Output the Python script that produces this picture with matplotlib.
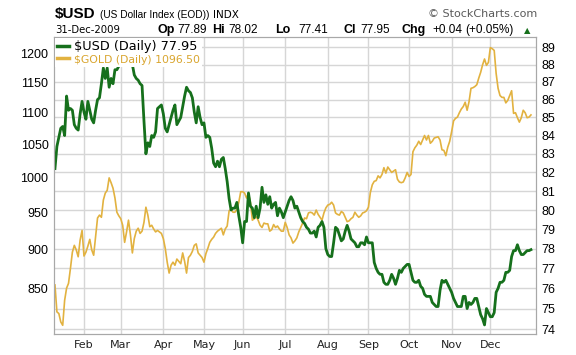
"""$USD vs $GOLD daily closes for 2009, redrawn in the StockCharts style.

Gold sits on the left (log) axis, the dollar index on the right (log) axis.
The x axis counts trading sessions, so weekends and holidays leave no gaps.
"""

import matplotlib

matplotlib.use("Agg")
import matplotlib.pyplot as plt
import matplotlib.transforms as mtransforms
import numpy as np
import pandas as pd
from matplotlib.lines import Line2D

plt.rcParams["text.parse_math"] = False  # labels contain literal "$"

# Session calendar of the window shown (NYSE holidays removed).
FIRST_DAY = "2009-01-09"
LAST_DAY = "2009-12-31"
HOLIDAYS = ["2009-01-19", "2009-02-16", "2009-04-10", "2009-05-25",
            "2009-07-03", "2009-09-07", "2009-11-26", "2009-12-25"]

# Daily closes, one line per month.
usd_close = [
    82.2, 83.4, 83.9, 84.4, 84.5, 84.0, 86.2, 85.4, 85.5, 85.4, 84.6, 84.4, 84.3, 85.2, 85.9,
    85.3, 84.9, 85.9, 85.4, 84.9, 84.7, 85.4, 86.0, 86.1, 86.9, 87.8, 87.2, 87.8, 86.7, 87.2,
    86.9, 87.7, 87.7, 87.9,
    88.1, 88.8, 89.3, 89.2, 89.0, 88.9, 88.0, 87.4, 87.2, 87.1, 86.9, 86.8, 84.8, 83.0, 83.6,
    83.4, 84.0, 83.9, 84.2, 85.5, 85.6, 85.7,
    85.2, 84.4, 84.2, 84.6, 85.0, 85.4, 85.7, 84.6, 84.8, 85.0, 85.6, 86.2, 86.7, 86.5, 86.4,
    86.1, 85.3, 84.7, 85.6, 85.0, 84.6,
    84.7, 83.9, 84.0, 83.9, 83.3, 82.5, 82.3, 82.6, 82.3, 82.7, 82.8, 82.2, 81.5, 80.6, 80.0,
    80.1, 80.1, 80.4, 79.7, 79.1,
    78.3, 79.4, 79.4, 80.9, 80.2, 80.1, 79.6, 80.2, 79.6, 80.1, 81.2, 80.4, 80.8, 80.3, 80.7,
    80.1, 80.3, 80.4, 79.7, 80.1, 79.9, 79.6,
    79.9, 80.2, 80.5, 80.7, 80.5, 80.1, 80.2, 79.9, 79.6, 79.4, 79.3, 79.1, 79.0, 78.8, 78.8,
    78.9, 78.6, 79.1, 79.2, 79.4, 79.1, 78.0,
    77.7, 77.6, 77.6, 78.3, 79.1, 79.0, 78.7, 78.4, 78.5, 78.9, 79.2, 78.9, 78.5, 78.4, 78.3,
    78.1, 78.1, 78.3, 78.3, 78.2, 78.6,
    78.3, 78.3, 78.3, 77.3, 77.0, 76.8, 76.7, 76.7, 76.3, 76.2, 76.2, 76.4, 76.7, 76.5, 76.2,
    76.5, 76.9, 76.8, 77.0, 77.1, 77.2,
    77.2, 76.8, 76.4, 76.3, 76.3, 76.4, 76.1, 76.0, 75.7, 75.6, 75.6, 75.6, 75.3, 75.2, 75.1,
    75.1, 75.9, 76.4, 76.3, 76.4, 76.2, 76.0,
    75.8, 75.5, 75.3, 75.1, 75.1, 75.1, 75.6, 75.6, 75.0, 75.3, 75.2, 75.3, 75.5, 75.5, 75.1,
    74.7, 74.5, 74.2, 75.0, 74.8,
    74.6, 74.6, 74.8, 75.8, 76.0, 76.3, 76.3, 76.4, 76.8, 76.8, 76.9, 77.6, 77.9, 77.9, 78.2,
    77.9, 77.7, 77.7, 77.8, 77.9, 77.9, 77.95,
]
gold_close = [
    855, 822, 820, 810, 806, 836, 851, 857, 876, 897, 906, 900, 891, 913, 926,
    892, 897, 905, 914, 900, 893, 918, 943, 947, 944, 968, 978, 982, 1000, 993, 985, 971, 951,
    946,
    942, 933, 910, 924, 940, 920, 896, 915, 925, 929, 922, 925, 937, 958, 947, 931, 933, 928,
    924, 926, 924, 922,
    915, 902, 884, 870, 880, 884, 880, 888, 885, 882, 896, 885, 870, 890, 893, 898, 906, 908,
    896, 893, 890,
    884, 895, 902, 910, 914, 917, 922, 925, 927, 929, 920, 928, 932, 953, 955, 951, 951, 955,
    965, 980,
    980, 978, 971, 977, 965, 940, 942, 945, 940, 933, 930, 936, 935, 935, 925, 927, 934, 930,
    932, 928, 925, 925,
    937, 930, 920, 916, 909, 912, 916, 924, 930, 936, 943, 942, 950, 951, 950, 947, 954, 948,
    944, 940, 950, 957,
    961, 962, 965, 961, 950, 948, 947, 952, 950, 944, 938, 939, 942, 944, 951, 947, 944, 946,
    950, 951, 953,
    958, 979, 990, 995, 996, 1003, 1000, 1005, 1015, 1007, 1016, 1012, 1008, 1010, 1012, 998,
    994, 993, 994, 1000, 1008,
    1002, 1005, 1039, 1045, 1049, 1055, 1050, 1057, 1064, 1057, 1064, 1052, 1055, 1060, 1061,
    1062, 1057, 1042, 1041, 1033, 1046, 1055,
    1070, 1087, 1091, 1093, 1100, 1106, 1110, 1117, 1104, 1118, 1140, 1141, 1143, 1146, 1157,
    1167, 1180, 1190, 1179, 1184,
    1210, 1208, 1205, 1165, 1140, 1128, 1125, 1125, 1116, 1120, 1128, 1136, 1099, 1100, 1092,
    1085, 1092, 1104, 1100, 1092, 1093, 1096.5,
]

usd_ticks = list(range(74, 90))
gold_ticks = [850, 900, 950, 1000, 1050, 1100, 1150, 1200]
month_labels = ["Feb", "Mar", "Apr", "May", "Jun", "Jul", "Aug", "Sep", "Oct", "Nov", "Dec"]
legend_labels = ["$USD (Daily) 77.95", "$GOLD (Daily) 1096.50"]

GREEN = "#16701c"
GOLD = "#e2b240"
GRID = "#d6d6d6"
SPINE = "#a8a8a8"
W, H = 576, 355

sessions = pd.bdate_range(FIRST_DAY, LAST_DAY)
sessions = sessions[~sessions.isin(pd.to_datetime(HOLIDAYS))]
assert len(sessions) == len(usd_close) == len(gold_close)
x = np.arange(len(sessions))
# first session of each month after January carries the month label
month_starts = [i for i in range(1, len(sessions)) if sessions[i].month != sessions[i - 1].month]


def px_text(fig, x_px, y_px, s, **kw):
    """Place header text by pixel position (baseline)."""
    fig.text(x_px / W, 1 - y_px / H, s, va="baseline", **kw)


fig = plt.figure(figsize=(W / 100, H / 100), dpi=100)
ax = fig.add_axes([54 / W, 1 - 334 / H, (536 - 54) / W, (334 - 37) / H])
ax2 = ax.twinx()

# gold, left axis
ax.plot(x, gold_close, color=GOLD, lw=1.2, zorder=2)
ax.set_yscale("log")
ax.set_ylim(795.8, 1228.9)
ax.set_yticks(gold_ticks, labels=[str(t) for t in gold_ticks])
ax.set_yticks([], minor=True)

# dollar index, right axis
ax2.plot(x, usd_close, color=GREEN, lw=2.0, zorder=2)
ax2.set_yscale("log")
ax2.set_ylim(73.76, 89.6)
ax2.set_yticks(usd_ticks, labels=[str(t) for t in usd_ticks])
ax2.set_yticks([], minor=True)

ax.set_xlim(-0.5, 248.6)
ax.set_xticks(month_starts, labels=month_labels)

# horizontal grid follows the right-hand scale but sits under both lines
hgrid = mtransforms.blended_transform_factory(ax.transAxes, ax2.transData)
for v in usd_ticks:
    ax.add_line(Line2D([0, 1], [v, v], transform=hgrid, color=GRID, lw=1, zorder=0.5))
ax.grid(axis="x", color=GRID, lw=1)
ax.set_axisbelow(True)

for a in (ax, ax2):
    for sp in a.spines.values():
        sp.set_color(SPINE)
    a.tick_params(length=0, pad=4)
for lab in ax.get_yticklabels() + ax2.get_yticklabels():
    lab.set_fontfamily("Liberation Sans")
    lab.set_fontsize(9)
for lab in ax.get_xticklabels():
    lab.set_fontfamily("DejaVu Sans")
    lab.set_fontsize(8)
    lab.set_color("#222222")

handles = [Line2D([], [], color=GREEN, lw=2.5), Line2D([], [], color=GOLD, lw=2.5)]
leg = ax2.legend(handles, legend_labels, loc="upper left", bbox_to_anchor=(0.0, 1.0),
                 borderaxespad=0.1, borderpad=0.15, handlelength=0.9, handletextpad=0.4,
                 labelspacing=0.05, frameon=True, fancybox=False, framealpha=1,
                 facecolor="white", edgecolor="none", prop={"family": "DejaVu Sans", "size": 9.3})
leg.get_texts()[1].set_color("#d9a52e")
leg.get_texts()[1].set_fontsize(7.8)
leg.set_zorder(5)

# header
px_text(fig, 55, 18, "$USD", family="Liberation Sans", weight="bold", size=11)
px_text(fig, 100, 18, "(US Dollar Index (EOD))", family="Liberation Sans", size=7.3)
px_text(fig, 213, 18, "INDX", family="DejaVu Sans", size=7.5)
fig.text(537 / W, 1 - 17 / H, "\u00a9 StockCharts.com", ha="right", va="baseline",
         family="DejaVu Sans", size=8, color="#5a5a5a")

px_text(fig, 55, 33, "31-Dec-2009", family="DejaVu Sans", size=7.3)
quote = [(158, "Op", True), (177, "77.89", False), (212, "Hi", True), (228, "78.02", False),
         (275, "Lo", True), (298, "77.41", False), (343, "Cl", True), (360, "77.95", False),
         (402, "Chg", True), (432, "+0.04", False), (465, "(+0.05%)", False)]
for xp, s, bold in quote:
    px_text(fig, xp, 33, s, family="Liberation Sans", size=9 if bold else 8.5,
            weight="bold" if bold else "normal")
px_text(fig, 524, 33, "\u25b2", family="DejaVu Sans", size=6, color=GREEN)

fig.savefig("out.png", dpi=100)
